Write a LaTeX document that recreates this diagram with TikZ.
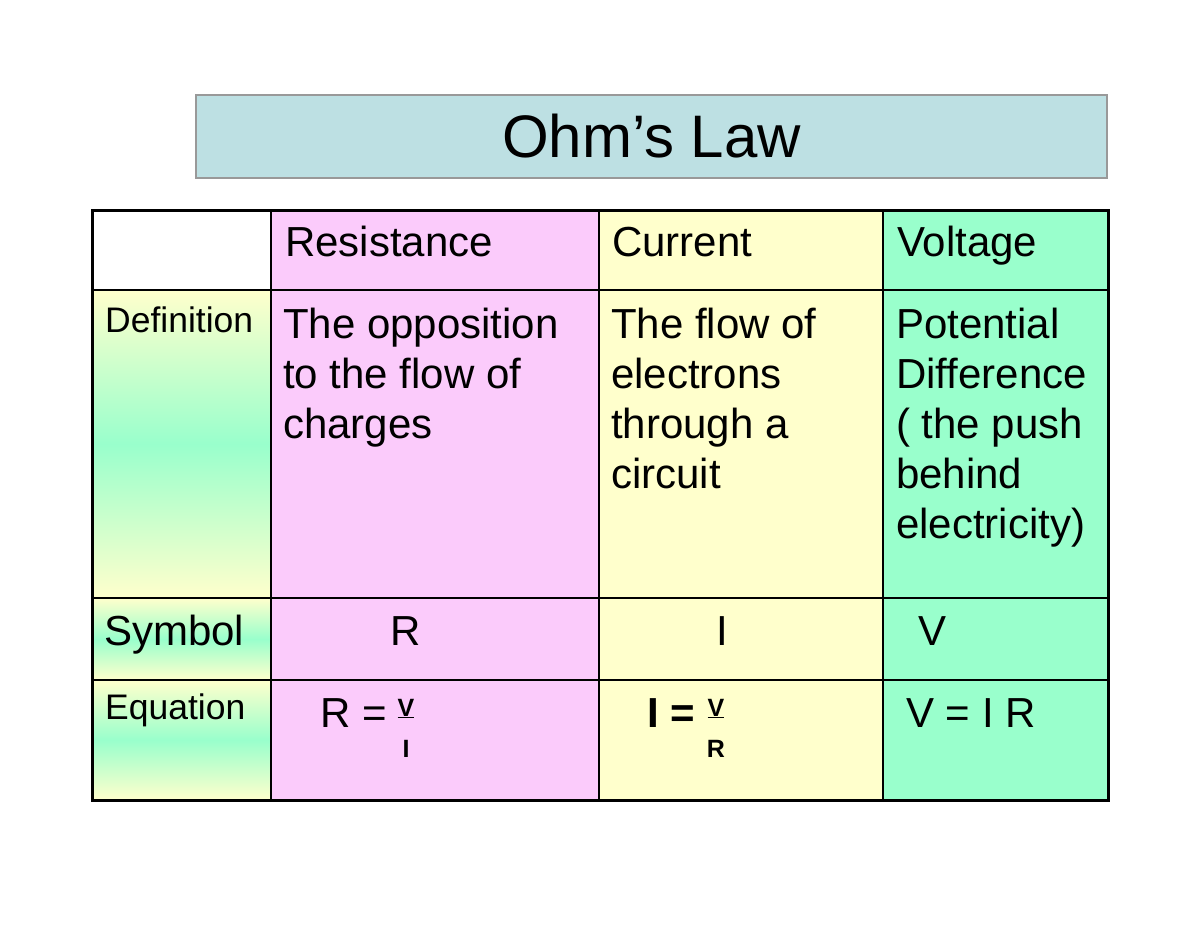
\documentclass[tikz,border=0pt]{standalone}
\usepackage{fontspec}
\setmainfont{Liberation Sans}
\begin{document}
\begin{tikzpicture}[x=1pt,y=-1pt,
  txt/.style={anchor=base west,inner sep=0pt,font=\fontsize{42}{50}\selectfont,align=left},
  dtx/.style={anchor=north west,inner sep=0pt,font=\fontsize{42}{50}\selectfont,align=left},
  lbl/.style={anchor=base west,inner sep=0pt,font=\fontsize{35.5}{40}\selectfont},
  frac/.style={inner sep=0pt,font=\bfseries\fontsize{25}{27}\selectfont}]
\definecolor{ttl}{HTML}{BDE0E3}
\definecolor{pnk}{HTML}{FBCBFB}
\definecolor{ylw}{HTML}{FFFFCC}
\definecolor{grn}{HTML}{99FFCC}
\useasboundingbox (0,0) rectangle (1200,927);
\fill[white] (0,0) rectangle (1200,927);
% title
\node[draw=gray!80,line width=1.5pt,fill=ttl,minimum width=911pt,minimum height=83pt,inner sep=0pt,
  font=\fontsize{60}{70}\selectfont] (title) at (651.5,136.5) {Ohm’s Law};
% column fills
\fill[pnk] (271,210) rectangle (599,800);
\fill[ylw] (599,210) rectangle (883,800);
\fill[grn] (883,210) rectangle (1108,800);
% gradient cells
\foreach \a/\b in {290/598,598/680,680/800}{
  \pgfmathsetmacro{\m}{(\a+\b)/2}
  \shade[top color=ylw,bottom color=grn] (92,\a) rectangle (271,\m);
  \shade[top color=grn,bottom color=ylw] (92,\m) rectangle (271,\b);
}
% grid
\draw[line width=1.5pt] (92,290) -- (1108,290) (92,598) -- (1108,598) (92,680) -- (1108,680)
  (271,210) -- (271,800) (599,210) -- (599,800) (883,210) -- (883,800);
\draw[line width=3pt] (92,210) rectangle (1108,800);
% headers
\node[txt] (h1) at (285,256) {Resistance};
\node[txt] (h2) at (612,256) {Current};
\node[txt] (h3) at (897,256) {Voltage};
% row labels
\node[lbl] (r1) at (105,332) {Definition};
\node[txt] (r2) at (104,645) {Symbol};
\node[lbl] (r3) at (105,719) {Equation};
% definitions
\node[dtx] (d1) at (283,308) {The opposition\\to the flow of\\charges};
\node[dtx] (d2) at (611,308) {The flow of\\electrons\\through a\\circuit};
\node[dtx] (d3) at (896,308) {Potential\\Difference\\( the push\\behind\\electricity)};
% symbols
\node[txt] (s1) at (390,645) {R};
\node[txt] (s2) at (716,645) {I};
\node[txt] (s3) at (918,645) {V};
% equations
\node[txt] (e1) at (320,727) {R =};
\node[frac,anchor=base] (e1n) at (406,716) {\underline{V}};
\node[frac,anchor=base] (e1d) at (406,757) {I};
\node[txt,font=\bfseries\fontsize{42}{50}\selectfont] (e2) at (647,727) {I =};
\node[frac,anchor=base] (e2n) at (716,716) {\underline{V}};
\node[frac,anchor=base] (e2d) at (716,757) {R};
\node[txt] (e3) at (906,727) {V = I R};
\end{tikzpicture}
\end{document}
